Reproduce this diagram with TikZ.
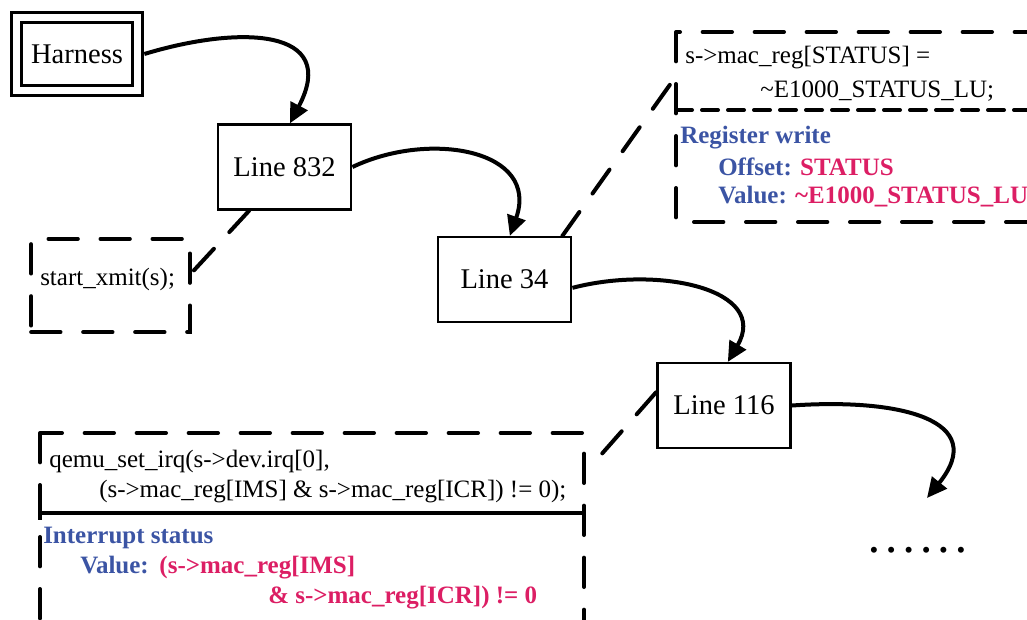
\documentclass[tikz,border=0pt]{standalone}
\usepackage{fontspec}
\setmainfont{Liberation Serif}
\usetikzlibrary{arrows.meta}

\definecolor{regblue}{RGB}{59,84,164}
\definecolor{regpink}{RGB}{220,30,100}

\tikzset{
  linebox/.style={draw, line width=1.9pt, minimum width=100pt, minimum height=63.5pt, inner sep=0pt, font=\fontsize{21.4}{24}\selectfont},
  flow/.style={line width=3pt, -{Triangle[length=15pt,width=14pt]}},
  dashline/.style={line width=3pt, line cap=round, dash pattern=on 22pt off 17pt},
  dashsep/.style={line width=3pt, line cap=round, dash pattern=on 12pt off 7.5pt},
  codetxt/.style={anchor=base west, inner sep=0pt, font=\fontsize{18.75}{22}\selectfont},
  desctxt/.style={codetxt, font=\fontsize{18.75}{22}\selectfont\bfseries, text=regblue},
}

\begin{document}
\begin{tikzpicture}[x=0.75pt,y=0.75pt,yscale=-1,xscale=1]
\clip (0,0) rectangle (1027,619);

% boxes of the path
\node[linebox, double, double distance=5.5pt, line width=2pt, minimum width=91pt, minimum height=54.4pt, outer sep=5pt] (harness) at (77,54) {Harness};
\node[linebox] (l832) at (284.5,167) {Line 832};
\node[linebox] (l34) at (504.5,279.5) {Line 34};
\node[linebox] (l116) at (724,405.5) {Line 116};

% code of line 832
\node[draw, dashline, minimum width=119pt, minimum height=70pt] (xmit) at (110.5,285.5) {};
\node[codetxt] (xmittxt) at (40,285) {start\_xmit(s);};

% code of line 34
\draw[dashline] (676,32) rectangle (1060,222);
\draw[dashsep] (676,110) -- (1060,110);
\coordinate (regin) at (674,79);
\node[codetxt] (regcode1) at (685,63) {s->mac\_reg[STATUS] =};
\node[codetxt] (regcode2) at (760,97) {\textasciitilde E1000\_STATUS\_LU;};
\node[desctxt] (regtitle) at (680,143) {Register write};
\node[desctxt] (regoff) at (718,175) {Offset: \textcolor{regpink}{STATUS}};
\node[desctxt] (regval) at (718,203) {Value: \textcolor{regpink}{\textasciitilde E1000\_STATUS\_LU}};

% code of line 116
\draw[dashline] (40,433) rectangle (584,680);
\draw[line width=3pt] (40,513) -- (584,513);
\draw[line width=3pt] (40,506) -- (40,520);
\draw[line width=3pt] (584,506) -- (584,520);
\coordinate (irqin) at (592,465);
\node[codetxt] (irqcode1) at (49,467) {qemu\_set\_irq(s->dev.irq[0],};
\node[codetxt] (irqcode2) at (99,497) {(s->mac\_reg[IMS] \& s->mac\_reg[ICR]) != 0);};
\node[desctxt] (irqtitle) at (43,543) {Interrupt status};
\node[desctxt] (irqval) at (80,573) {Value:\hspace{8pt}\textcolor{regpink}{(s->mac\_reg[IMS]}};
\node[desctxt, text=regpink] (irqval2) at (268,603) {\& s->mac\_reg[ICR]) != 0};

% more lines
\coordinate (dotsin) at (927,498);
\node[inner sep=0pt, font=\fontsize{18.75}{22}\selectfont] (dots) at (917.5,553) {\textbullet\hspace{6.5pt}\textbullet\hspace{6.5pt}\textbullet\hspace{6.5pt}\textbullet\hspace{6.5pt}\textbullet\hspace{6.5pt}\textbullet};

% flow
\draw[flow] (harness.east) .. controls (240,25) and (340,28) .. (l832.83);
\draw[flow] (l832.east) .. controls (430,130) and (540,150) .. (l34.83);
\draw[flow] (l34.-7) .. controls (660,265) and (770,290) .. (l116.85);
\draw[flow] (l116.east) .. controls (900,398) and (990,420) .. (dotsin);

% links to code
\draw[dashline] (l832.231) -- (xmit.9);
\draw[dashline] (l34.37) -- (regin);
\draw[dashline] (l116.169) -- (irqin);

\end{tikzpicture}
\end{document}
